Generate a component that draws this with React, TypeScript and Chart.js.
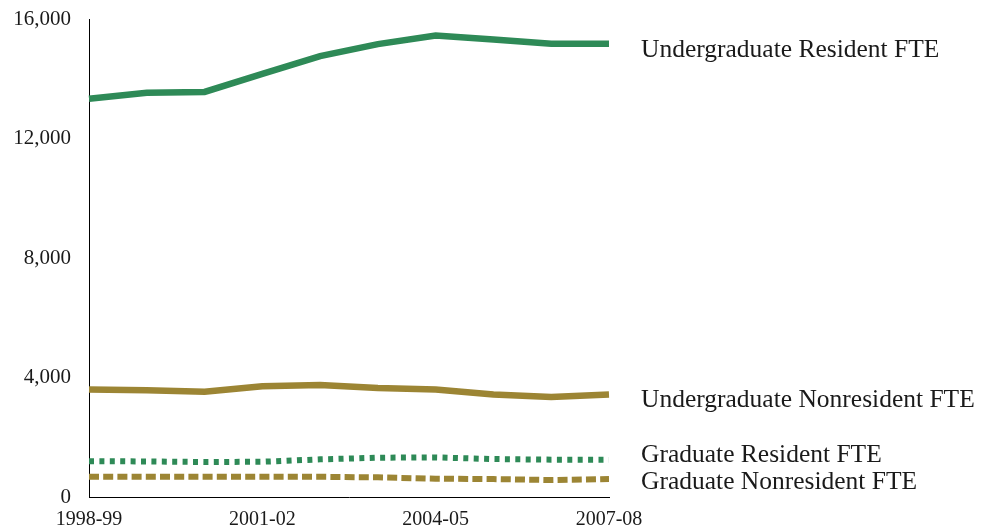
import React, { useEffect, useRef } from "react";
import { Chart, registerables } from "chart.js";

Chart.register(...registerables);

const years = ["1998-99", "1999-00", "2000-01", "2001-02", "2002-03", "2003-04", "2004-05", "2005-06", "2006-07", "2007-08"];
const undergradResident = [13330, 13530, 13560, 14160, 14760, 15160, 15450, 15310, 15170, 15170];
const undergradNonresident = [3600, 3575, 3520, 3705, 3750, 3650, 3600, 3430, 3350, 3430];
const gradResident = [1200, 1190, 1170, 1180, 1260, 1315, 1325, 1270, 1250, 1250];
const gradNonresident = [680, 678, 677, 677, 677, 657, 612, 600, 568, 600];
const seriesNames = ["Undergraduate Resident FTE", "Undergraduate Nonresident FTE", "Graduate Resident FTE", "Graduate Nonresident FTE"];
const yTicks = [0, 4000, 8000, 12000, 16000];

const GREEN = "#2e8a57";
const GOLD = "#9c8534";
const FONT = "'Liberation Serif', 'Times New Roman', serif";
const labelBaselineOffsets = [13, 12, 2, 10];

const endLabels = {
  id: "endLabels",
  afterDatasetsDraw(chart: any) {
    const ctx = chart.ctx;
    const area = chart.chartArea;
    ctx.save();
    ctx.font = `25.5px ${FONT}`;
    ctx.fillStyle = "#1a1a1a";
    ctx.textAlign = "left";
    ctx.textBaseline = "alphabetic";
    chart.data.datasets.forEach((ds: any, i: number) => {
      const meta = chart.getDatasetMeta(i);
      const pt = meta.data[meta.data.length - 1];
      ctx.fillText(ds.label, area.right + 32, pt.y + labelBaselineOffsets[i]);
    });
    ctx.restore();
  },
};

export default function App() {
  const ref = useRef<HTMLCanvasElement | null>(null);
  useEffect(() => {
    if (!ref.current) return;
    const chart = new Chart(ref.current, {
      type: "line",
      data: {
        labels: years,
        datasets: [
          { label: seriesNames[0], data: undergradResident, borderColor: GREEN, borderWidth: 6.5, pointRadius: 0, tension: 0 },
          { label: seriesNames[1], data: undergradNonresident, borderColor: GOLD, borderWidth: 6.5, pointRadius: 0, tension: 0 },
          { label: seriesNames[2], data: gradResident, borderColor: GREEN, borderWidth: 6, borderDash: [5, 5.4], borderCapStyle: "butt", pointRadius: 0, tension: 0 },
          { label: seriesNames[3], data: gradNonresident, borderColor: GOLD, borderWidth: 6, borderDash: [10, 4.2], borderCapStyle: "butt", pointRadius: 0, tension: 0 },
        ],
      },
      options: {
        animation: false,
        responsive: false,
        maintainAspectRatio: false,
        layout: { padding: { top: 19, right: 373, left: 0, bottom: 0 } },
        plugins: { legend: { display: false }, tooltip: { enabled: false } },
        scales: {
          x: {
            offset: false,
            grid: { display: false, drawTicks: false },
            border: { display: true, color: "#000", width: 1 },
            ticks: {
              autoSkip: false,
              maxRotation: 0,
              padding: 11,
              color: "#1a1a1a",
              font: { family: FONT, size: 20 },
              callback: (_v: any, i: number) => (i % 3 === 0 ? years[i] : ""),
            },
            afterFit: (s: any) => { s.height = 32; s.paddingLeft = 0; s.paddingRight = 0; },
          },
          y: {
            min: 0,
            max: 16000,
            afterBuildTicks: (s: any) => { s.ticks = yTicks.map((v) => ({ value: v })); },
            grid: { display: false, drawTicks: false },
            border: { display: true, color: "#000", width: 1 },
            ticks: {
              padding: 18,
              color: "#1a1a1a",
              font: { family: FONT, size: 21 },
              callback: (v: any) => Number(v).toLocaleString("en-US"),
            },
            afterFit: (s: any) => { s.width = 89; s.paddingTop = 0; s.paddingBottom = 0; },
          },
        },
      },
      plugins: [endLabels],
    });
    return () => chart.destroy();
  }, []);
  return (
    <div style={{ position: "fixed", left: 0, top: 0, width: 982, height: 529, background: "#fff" }}>
      <canvas ref={ref} width={982} height={529} style={{ width: 982, height: 529, display: "block" }} />
    </div>
  );
}
